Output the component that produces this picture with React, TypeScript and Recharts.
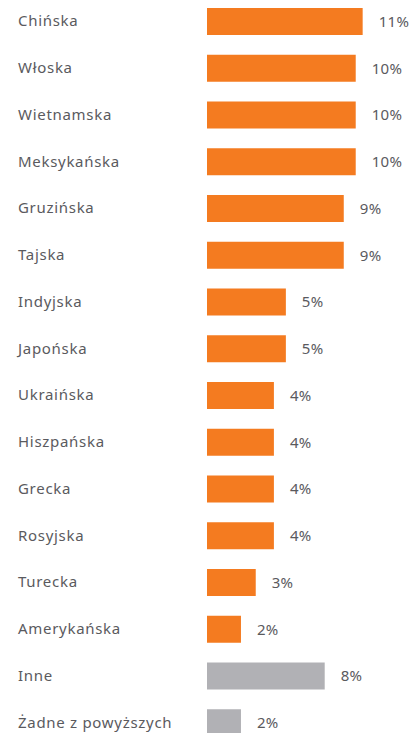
import React from "react";
import { BarChart, Bar, XAxis, YAxis, Cell, LabelList } from "recharts";

const categories = [
  "Chińska", "Włoska", "Wietnamska", "Meksykańska", "Gruzińska", "Tajska",
  "Indyjska", "Japońska", "Ukraińska", "Hiszpańska", "Grecka", "Rosyjska",
  "Turecka", "Amerykańska", "Inne", "Żadne z powyższych",
];
const values = [10.54, 10.07, 10.07, 10.07, 9.26, 9.26, 5.34, 5.34, 4.53, 4.53, 4.53, 4.53, 3.3, 2.3, 7.97, 2.3];
const valueLabels = ["11%", "10%", "10%", "10%", "9%", "9%", "5%", "5%", "4%", "4%", "4%", "4%", "3%", "2%", "8%", "2%"];
const groups = ["main", "main", "main", "main", "main", "main", "main", "main", "main", "main", "main", "main", "main", "main", "other", "other"];

const COLORS: Record<string, string> = { main: "#F47B20", other: "#B1B1B5" };
const FONT = "'Noto Sans', sans-serif";

const data = categories.map((c, i) => ({ name: c, value: values[i], label: valueLabels[i], group: groups[i] }));

const Tick = (props: any) => {
  const { y, payload } = props;
  return (
    <text x={18} y={y} dy={5} textAnchor="start" fill="#5a5a5e" fontSize={15} letterSpacing={0.7} fontFamily={FONT}>
      {payload.value}
    </text>
  );
};

export default function App() {
  return (
    <div style={{ position: "absolute", top: -3, left: 0 }}>
      <BarChart
        width={411}
        height={760}
        data={data}
        layout="vertical"
        margin={{ top: 1, right: 12, bottom: 11, left: 0 }}
      >
        <XAxis type="number" domain={[0, 13]} hide />
        <YAxis type="category" dataKey="name" width={207} axisLine={false} tickLine={false} tick={<Tick />} interval={0} />
        <Bar dataKey="value" barSize={27} isAnimationActive={false}>
          {data.map((d, i) => (
            <Cell key={i} fill={COLORS[d.group]} />
          ))}
          <LabelList dataKey="label" position="right" offset={16} fill="#5a5a5e" fontSize={15} letterSpacing={0.3} fontFamily={FONT} />
        </Bar>
      </BarChart>
    </div>
  );
}
